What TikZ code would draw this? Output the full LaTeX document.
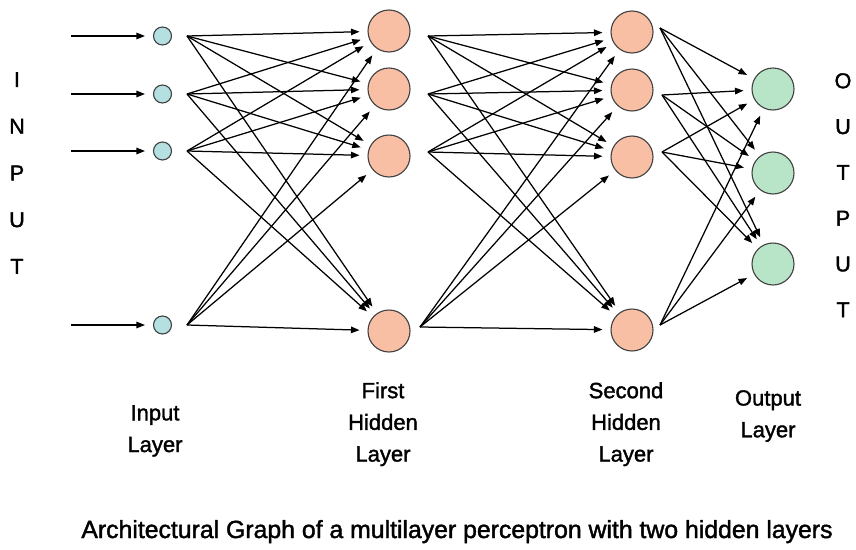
\documentclass[tikz,border=0pt]{standalone}
\usepackage{fontspec}
\setmainfont{Liberation Sans}[FakeBold=1.6]
\usetikzlibrary{arrows.meta}
\definecolor{inputfill}{HTML}{B4E0E2}
\definecolor{hiddenfill}{HTML}{F8BFA5}
\definecolor{outputfill}{HTML}{B8E5C8}
\definecolor{rim}{HTML}{404040}
\begin{document}
\begin{tikzpicture}[x=1pt,y=-1pt,
  unit/.style={circle,draw=rim,line width=1.1pt,inner sep=0pt},
  inunit/.style={unit,fill=inputfill,minimum size=18pt},
  hidunit/.style={unit,fill=hiddenfill,minimum size=42pt},
  outunit/.style={unit,fill=outputfill,minimum size=42pt},
  link/.style={-{Triangle[length=8.5pt,width=6.5pt]},line width=1.25pt,shorten >=8pt},
  lbl/.style={font=\fontsize{22}{31.7}\selectfont,align=center,inner sep=0pt,anchor=north},
  column/.style={align=center,inner sep=0pt,anchor=north},
]
\path[use as bounding box] (0,0) rectangle (856,549);

% input layer with its incoming signals
\foreach \i/\y in {1/36,2/94,3/151,4/325}{
  \node[inunit] (in\i) at (162.5,\y) {};
  \coordinate (src\i) at (71,\y);
  \coordinate (fanA\i) at (187,\y);
  \draw[link] (src\i) -- (in\i);
}

% first hidden layer
\foreach \i/\y in {1/31,2/89,3/156,4/331}
  \node[hidunit] (ha\i) at (389,\y) {};
\foreach \i/\x/\y in {1/428/36,2/428/94,3/428/152,4/420/327}
  \coordinate (fanB\i) at (\x,\y);

% second hidden layer
\foreach \i/\y in {1/32,2/90,3/157,4/330}
  \node[hidunit] (hb\i) at (632,\y) {};
\foreach \i/\x/\y in {1/660/28,2/662/95,3/662/152,4/660/325}
  \coordinate (fanC\i) at (\x,\y);

% output layer
\foreach \i/\y in {1/89,2/173,3/264}
  \node[outunit] (out\i) at (773,\y) {};

% full connections between consecutive layers
\foreach \s in {1,...,4}
  \foreach \t in {1,...,4}
    \draw[link] (fanA\s) -- (ha\t);
\foreach \s in {1,...,4}
  \foreach \t in {1,...,4}
    \draw[link] (fanB\s) -- (hb\t);
\foreach \s in {1,...,4}
  \foreach \t in {1,...,3}
    \draw[link] (fanC\s) -- (out\t);

% side words
\node[column,font=\fontsize{21.5}{46.7}\selectfont] (inword) at (17,72) {I\\N\\P\\U\\T};
\node[column,font=\fontsize{21.5}{45.8}\selectfont] (outword) at (843,73) {O\\U\\T\\P\\U\\T};

% layer labels
\node[lbl] (lblIn) at (155,405) {Input\\Layer};
\node[lbl] (lblHa) at (383,382) {First\\Hidden\\Layer};
\node[lbl] (lblHb) at (626,382) {Second\\Hidden\\Layer};
\node[lbl] (lblOut) at (768,390) {Output\\Layer};

% caption
\node[anchor=base,inner sep=0pt,font=\fontsize{24.8}{30}\selectfont] (caption) at (457,538)
  {Architectural Graph of a multilayer perceptron with two hidden layers};
\end{tikzpicture}
\end{document}
